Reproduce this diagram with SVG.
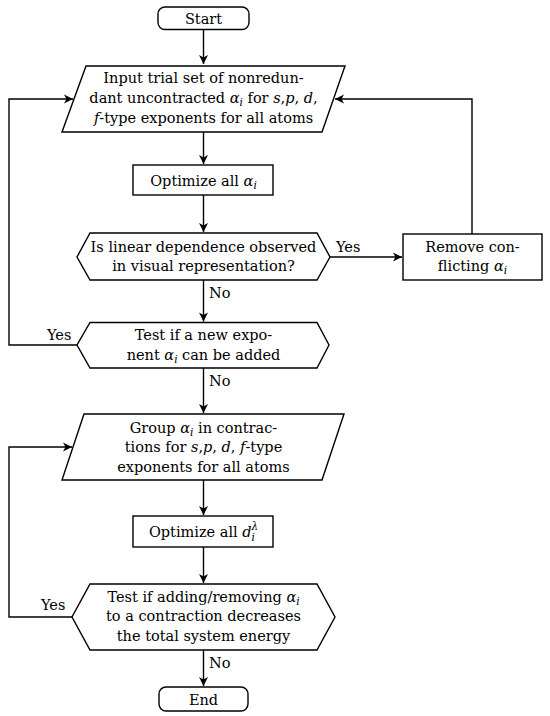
<svg xmlns="http://www.w3.org/2000/svg" width="550" height="716" viewBox="0 0 550 716">
<defs>
<style>
.n{fill:#fff;stroke:#000;stroke-width:1.4}
.c{fill:none;stroke:#000;stroke-width:1.4}
text{font-family:"DejaVu Serif","Liberation Serif",serif;font-size:14.5px;fill:#000}
.m{text-anchor:middle}
.i{font-style:italic}
.s{font-size:10.5px;font-style:italic}
</style>
<marker id="a" viewBox="-10 -5 11 10" refX="0" refY="0" markerWidth="11" markerHeight="10" markerUnits="userSpaceOnUse" orient="auto">
<path d="M0,0 L-9,-4.5 L-6.5,0 L-9,4.5 z" fill="#000"/>
</marker>
</defs>
<g id="connectors">
<path class="c" d="M203.5,29 V64" marker-end="url(#a)"/>
<path class="c" d="M203.5,132 V164" marker-end="url(#a)"/>
<path class="c" d="M203.5,195 V232" marker-end="url(#a)"/>
<path class="c" d="M330,257 H402" marker-end="url(#a)"/>
<path class="c" d="M472,234 V99 H335" marker-end="url(#a)"/>
<path class="c" d="M203.5,280 V321.5" marker-end="url(#a)"/>
<path class="c" d="M77,345 H9 V99 H73" marker-end="url(#a)"/>
<path class="c" d="M203.5,368 V413" marker-end="url(#a)"/>
<path class="c" d="M203.5,480 V515" marker-end="url(#a)"/>
<path class="c" d="M203.5,547 V583" marker-end="url(#a)"/>
<path class="c" d="M72,617 H9 V447 H72" marker-end="url(#a)"/>
<path class="c" d="M203.5,650 V686" marker-end="url(#a)"/>
<text x="336" y="251.5">Yes</text>
<text x="209" y="298">No</text>
<text x="47" y="339.5">Yes</text>
<text x="209" y="386">No</text>
<text x="41" y="610">Yes</text>
<text x="209" y="668">No</text>
</g>
<g id="start">
<rect class="n" x="158" y="7" width="91" height="22.5" rx="7"/>
<text class="m" x="203.5" y="23.5">Start</text>
</g>
<g id="input">
<polygon class="n" points="86,66 345,66 322,132 62,132"/>
<text class="m" x="203.5" y="82.5">Input trial set of nonredun-</text>
<text class="m" x="203.5" y="102.5">dant uncontracted <tspan class="i">α</tspan><tspan class="s" dy="3">i</tspan><tspan dy="-3"> for </tspan><tspan class="i">s</tspan>,<tspan class="i">p</tspan>, <tspan class="i">d</tspan>,</text>
<text class="m" x="203.5" y="122.5"><tspan class="i">f</tspan>-type exponents for all atoms</text>
</g>
<g id="optimize1">
<rect class="n" x="133" y="165" width="140" height="30"/>
<text class="m" x="203.5" y="185.5">Optimize all <tspan class="i">α</tspan><tspan class="s" dy="3">i</tspan></text>
</g>
<g id="lindep">
<polygon class="n" points="90,233 317,233 330,257 317,280 90,280 77,257"/>
<text class="m" x="203.5" y="251.5">Is linear dependence observed</text>
<text class="m" x="203.5" y="270.5">in visual representation?</text>
</g>
<g id="remove">
<rect class="n" x="403" y="234" width="139" height="46"/>
<text class="m" x="472.5" y="251.5">Remove con-</text>
<text class="m" x="472.5" y="270.5">flicting <tspan class="i">α</tspan><tspan class="s" dy="3">i</tspan></text>
</g>
<g id="newexp">
<polygon class="n" points="90,322.5 317,322.5 329,345 317,368 90,368 77,345"/>
<text class="m" x="203.5" y="340">Test if a new expo-</text>
<text class="m" x="203.5" y="359.5">nent <tspan class="i">α</tspan><tspan class="s" dy="3">i</tspan><tspan dy="-3"> can be added</tspan></text>
</g>
<g id="group">
<polygon class="n" points="84,414 344,414 322,480 62,480"/>
<text class="m" x="203.5" y="432.5">Group <tspan class="i">α</tspan><tspan class="s" dy="3">i</tspan><tspan dy="-3"> in contrac-</tspan></text>
<text class="m" x="203.5" y="452">tions for <tspan class="i">s</tspan>,<tspan class="i">p</tspan>, <tspan class="i">d</tspan>, <tspan class="i">f</tspan>-type</text>
<text class="m" x="203.5" y="471.5">exponents for all atoms</text>
</g>
<g id="optimize2">
<rect class="n" x="133" y="516" width="140" height="31"/>
<text class="m" x="203.5" y="537">Optimize all <tspan class="i">d</tspan><tspan class="s" dy="3.5">i</tspan><tspan class="s" dx="-3.5" dy="-11">λ</tspan></text>
</g>
<g id="addremove">
<polygon class="n" points="90,584 317,584 335,617 317,650 90,650 72,617"/>
<text class="m" x="203.5" y="601.5">Test if adding/removing <tspan class="i">α</tspan><tspan class="s" dy="3">i</tspan></text>
<text class="m" x="203.5" y="621">to a contraction decreases</text>
<text class="m" x="203.5" y="641">the total system energy</text>
</g>
<g id="end">
<rect class="n" x="159" y="687" width="89" height="24" rx="7"/>
<text class="m" x="203.5" y="704.5">End</text>
</g>
</svg>
